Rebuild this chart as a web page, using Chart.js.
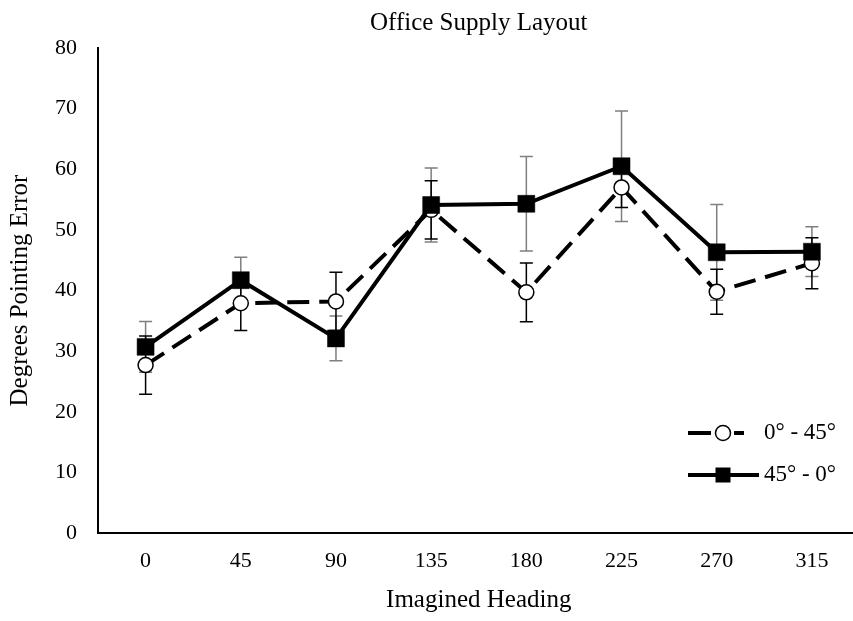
<!DOCTYPE html>
<html>
<head>
<meta charset="utf-8">
<script src="https://cdn.jsdelivr.net/npm/chart.js@4"></script>
<style>
html,body{margin:0;padding:0;background:#fff;overflow:hidden;}
#wrap{width:853px;height:621px;overflow:hidden;position:relative;}
canvas{display:block;}
</style>
</head>
<body>
<div id="wrap"><canvas id="c" width="872" height="621" style="width:872px;height:621px"></canvas></div>
<script>
const chartTitle = "Office Supply Layout";
const xTitle = "Imagined Heading";
const yTitle = "Degrees Pointing Error";
const categories = ["0", "45", "90", "135", "180", "225", "270", "315"];
const seriesNames = ["0\u00b0 - 45\u00b0", "45\u00b0 - 0\u00b0"];
const circleValues = [27.7, 37.9, 38.2, 53.3, 39.7, 57.0, 39.8, 44.5];
const circleErrors = [4.8, 4.5, 4.8, 4.8, 4.85, 3.3, 3.7, 4.2];
const squareValues = [30.7, 41.7, 32.1, 54.1, 54.3, 60.5, 46.3, 46.4];
const squareErrors = [4.2, 3.8, 3.7, 6.1, 7.8, 9.1, 7.9, 4.1];
const yTicks = [0, 10, 20, 30, 40, 50, 60, 70, 80];

const FONT = "'Liberation Serif', 'Times New Roman', serif";
Chart.defaults.font.family = FONT;
Chart.defaults.color = '#000';

const errorBars = {
  id: 'errorBars',
  beforeDatasetsDraw(chart) {
    const ctx = chart.ctx;
    const xs = chart.scales.x, ys = chart.scales.y;
    chart.data.datasets.forEach(ds => {
      const errs = ds.errors;
      ctx.save();
      ctx.strokeStyle = ds.errorColor;
      ctx.lineWidth = 1.5;
      ds.data.forEach((v, i) => {
        const x = xs.getPixelForValue(i);
        const yt = ys.getPixelForValue(v + errs[i]);
        const yb = ys.getPixelForValue(v - errs[i]);
        ctx.beginPath();
        ctx.moveTo(x, yt); ctx.lineTo(x, yb);
        ctx.moveTo(x - 6.5, yt); ctx.lineTo(x + 6.5, yt);
        ctx.moveTo(x - 6.5, yb); ctx.lineTo(x + 6.5, yb);
        ctx.stroke();
      });
      ctx.restore();
    });
  }
};

const titleAndLegend = {
  id: 'titleAndLegend',
  afterDraw(chart) {
    const ctx = chart.ctx;
    const ca = chart.chartArea;
    ctx.save();
    ctx.fillStyle = '#000';
    ctx.font = "25px " + FONT;
    ctx.textAlign = 'center';
    ctx.textBaseline = 'middle';
    ctx.fillText(chartTitle, (ca.left + ca.right) / 2, 23);

    // legend
    const lx0 = 688, tx = 764;
    const y1 = 433, y2 = 475;
    ctx.strokeStyle = '#000';
    ctx.lineWidth = 4;
    ctx.setLineDash([23, 23]);
    ctx.beginPath(); ctx.moveTo(lx0, y1); ctx.lineTo(744, y1); ctx.stroke();
    ctx.setLineDash([]);
    ctx.beginPath(); ctx.arc(723, y1, 7.5, 0, Math.PI * 2);
    ctx.fillStyle = '#fff'; ctx.fill();
    ctx.lineWidth = 1.5; ctx.strokeStyle = '#000'; ctx.stroke();

    ctx.lineWidth = 4;
    ctx.beginPath(); ctx.moveTo(lx0, y2); ctx.lineTo(759, y2); ctx.stroke();
    ctx.fillStyle = '#000';
    ctx.fillRect(723 - 7.5, y2 - 7.5, 15, 15);

    ctx.font = "23px " + FONT;
    ctx.textAlign = 'left';
    ctx.fillStyle = '#000';
    ctx.fillText(seriesNames[0], tx, y1);
    ctx.fillText(seriesNames[1], tx, y2);
    ctx.restore();
  }
};

new Chart(document.getElementById('c'), {
  type: 'line',
  data: {
    labels: categories,
    datasets: [
      {
        label: seriesNames[1],
        data: squareValues,
        errors: squareErrors,
        errorColor: '#7f7f7f',
        borderColor: '#000',
        borderWidth: 4,
        pointStyle: 'rect',
        pointRadius: 12,
        pointBackgroundColor: '#000',
        pointBorderColor: '#000',
        pointBorderWidth: 0.5,
        tension: 0,
        order: 1
      },
      {
        label: seriesNames[0],
        data: circleValues,
        errors: circleErrors,
        errorColor: '#000',
        borderColor: '#000',
        borderWidth: 4,
        borderDash: [22, 10],
        pointStyle: 'circle',
        pointRadius: 7.5,
        pointBackgroundColor: '#fff',
        pointBorderColor: '#000',
        pointBorderWidth: 1.5,
        tension: 0,
        order: 2
      }
    ]
  },
  options: {
    responsive: false,
    animation: false,
    devicePixelRatio: 1,
    layout: { padding: { top: 48, right: 1, left: 0, bottom: 0 } },
    plugins: {
      legend: { display: false },
      title: { display: false },
      tooltip: { enabled: false }
    },
    scales: {
      x: {
        offset: true,
        grid: { display: false, drawTicks: false },
        border: { display: true, color: '#000', width: 2 },
        ticks: { font: { size: 22 }, color: '#000', padding: 15 },
        title: { display: true, text: xTitle, font: { size: 25 }, color: '#000', padding: { top: 0, bottom: 6 } },
        afterFit(s) { s.height = 88; }
      },
      y: {
        min: 0, max: 80,
        afterBuildTicks(s) { s.ticks = yTicks.map(v => ({ value: v })); },
        grid: { display: false, drawTicks: false },
        border: { display: true, color: '#000', width: 2 },
        ticks: { font: { size: 22 }, color: '#000', padding: 21 },
        title: { display: true, text: yTitle, font: { size: 25 }, color: '#000', padding: { top: 5, bottom: 0 } },
        afterFit(s) { s.width = 98; }
      }
    }
  },
  plugins: [errorBars, titleAndLegend]
});
</script>
</body>
</html>
